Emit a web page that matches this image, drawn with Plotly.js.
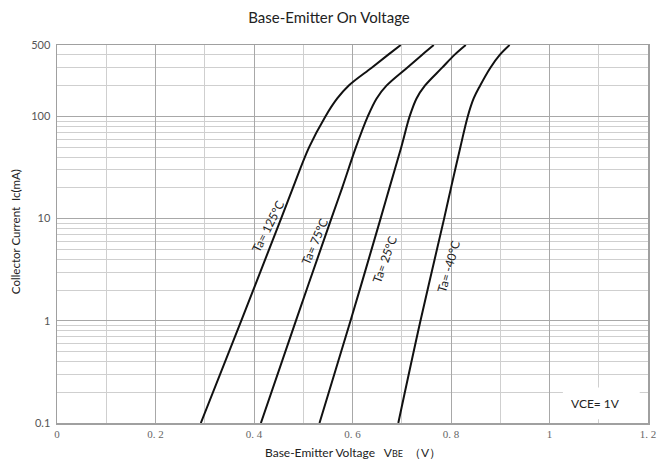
<!DOCTYPE html>
<html>
<head>
<meta charset="utf-8">
<script src="https://cdn.plot.ly/plotly-3.0.1.min.js"></script>
<style>html,body{margin:0;padding:0;background:#fff;}#chart{width:658px;height:466px;}</style>
</head>
<body>
<div id="chart"></div>
<script>
// Collector current (mA) at which the voltages below were read
const currentMA = [0.1, 1, 10, 20, 50, 100, 150, 200, 300, 400, 500];
// Base-emitter voltage (V) per ambient temperature
const vbe125 = [0.292, 0.374, 0.455, 0.479, 0.512, 0.545, 0.569, 0.592, 0.639, 0.672, 0.698];
const vbe75  = [0.414, 0.485, 0.557, 0.579, 0.607, 0.631, 0.649, 0.669, 0.711, 0.741, 0.765];
const vbe25  = [0.533, 0.596, 0.657, 0.675, 0.699, 0.716, 0.730, 0.747, 0.782, 0.807, 0.830];
const vbeM40 = [0.693, 0.738, 0.786, 0.800, 0.819, 0.834, 0.846, 0.859, 0.880, 0.899, 0.919];
const seriesNames = ['Ta= 125°C', 'Ta= 75°C', 'Ta= 25°C', 'Ta= -40°C'];

const xTickVals = [0, 0.2, 0.4, 0.6, 0.8, 1.0, 1.2];
const xTickText = ['0', '0. 2', '0. 4', '0. 6', '0. 8', '1', '1. 2'];
const yTickVals = [0.1, 1, 10, 100, 500];
const yTickText = ['0.1', '1', '10', '100', '500'];
const yMinorVals = [0.2,0.3,0.4,0.5,0.6,0.7,0.8,0.9,2,3,4,5,6,7,8,9,20,30,40,50,60,70,80,90,200,300,400];

const allV = [vbe125, vbe75, vbe25, vbeM40];
const traces = allV.map((v, i) => ({
  x: v, y: currentMA, type: 'scatter', mode: 'lines', name: seriesNames[i],
  line: {color: '#111', width: 2, shape: 'spline', smoothing: 1},
  hoverinfo: 'skip'
}));

const labelFont = {family: 'Lato, "Noto Sans", sans-serif', size: 12, color: '#222'};
const labelPos = [[0.428, 8.4, -63], [0.523, 6.0, -67], [0.665, 4.0, -70], [0.795, 3.4, -74]];
const annotations = seriesNames.map((t, i) => ({
  text: t, x: labelPos[i][0], y: Math.log10(labelPos[i][1]), xref: 'x', yref: 'y',
  xanchor: 'center', yanchor: 'middle',
  showarrow: false, textangle: labelPos[i][2], font: labelFont
}));
annotations.push({
  text: 'Collector Current  Ic(mA)', xref: 'paper', yref: 'paper', x: -0.071, y: 0.505,
  xanchor: 'center', yanchor: 'middle',
  showarrow: false, textangle: -90, font: {family: 'Lato, sans-serif', size: 11.5, color: '#222'}
});
annotations.push({
  text: 'Base-Emitter Voltage   V<span style="font-size:9px">BE</span>  （V）', xref: 'paper', yref: 'paper',
  x: 0.5, y: -0.078, xanchor: 'center', yanchor: 'middle', showarrow: false,
  font: {family: 'Lato, sans-serif', size: 12, color: '#222'}
});
annotations.push({
  text: 'VCE= 1V', xref: 'paper', yref: 'paper', x: 0.912, y: 0.052,
  xanchor: 'center', yanchor: 'middle',
  showarrow: false, font: {family: 'Lato, sans-serif', size: 12, color: '#222'}
});

const layout = {
  width: 658, height: 466,
  margin: {l: 57, r: 10, t: 45, b: 43},
  paper_bgcolor: '#fff', plot_bgcolor: '#fff',
  showlegend: false,
  title: {text: 'Base-Emitter On Voltage', x: 0.5, xref: 'container', xanchor: 'center',
          y: 0.962, yanchor: 'middle',
          font: {family: 'Lato, sans-serif', size: 15, color: '#222'}},
  xaxis: {
    range: [0, 1.2], tickmode: 'array', tickvals: xTickVals, ticktext: xTickText,
    showgrid: true, gridcolor: '#a8a8a8', gridwidth: 1, zeroline: false,
    minor: {dtick: 0.1, tick0: 0, showgrid: true, gridcolor: '#cfcfcf', ticks: ''},
    showline: true, mirror: true, linecolor: '#a0a0a0', linewidth: 1.5, ticks: '',
    tickfont: {family: '"Liberation Serif", "DejaVu Serif", serif', size: 11, color: '#666'}
  },
  yaxis: {
    type: 'log', range: [-1, Math.log10(500)], tickmode: 'array', tickvals: yTickVals, ticktext: yTickText,
    showgrid: true, gridcolor: '#a8a8a8', gridwidth: 1, zeroline: false,
    minor: {tickmode: 'array', tickvals: yMinorVals, showgrid: true, gridcolor: '#cfcfcf', ticks: ''},
    showline: true, mirror: true, linecolor: '#a0a0a0', linewidth: 1.5, ticks: '',
    ticklabelstandoff: 3,
    tickfont: {family: 'Lato, sans-serif', size: 11, color: '#555'}
  },
  shapes: [{
    type: 'rect', xref: 'paper', yref: 'paper', x0: 0.856, x1: 0.986, y0: 0.01, y1: 0.094,
    fillcolor: '#fff', line: {width: 0}, layer: 'above'
  }],
  annotations: annotations
};

Plotly.newPlot('chart', traces, layout, {displayModeBar: false, staticPlot: true});
</script>
</body>
</html>
